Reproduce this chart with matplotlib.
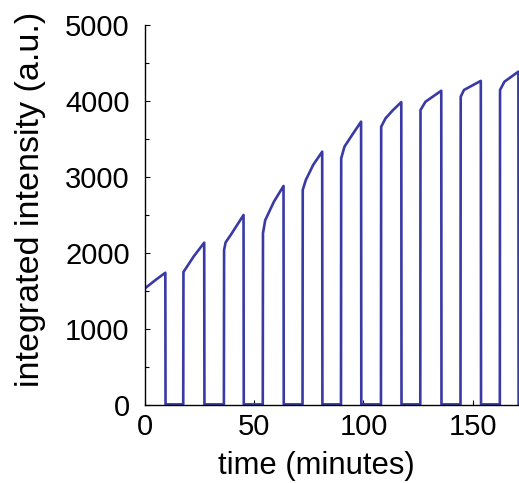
import matplotlib
matplotlib.use("Agg")
import matplotlib.pyplot as plt
from matplotlib.ticker import MultipleLocator

plt.rcParams['font.family'] = ['Liberation Sans', 'DejaVu Sans']

# time (minutes) and integrated intensity (a.u.)
time_min = [0.0, 4.6, 9.3, 9.4, 17.5,
            17.6, 22.3, 27.1, 27.2, 36.1,
            36.2, 36.9, 39.3, 45.1, 45.2, 53.9,
            54.0, 55.0, 59.0, 63.4, 63.5, 72.1,
            72.2, 73.6, 77.0, 81.1, 81.2, 89.7,
            89.8, 91.3, 94.8, 98.9, 99.0, 108.0,
            108.1, 110.1, 113.5, 117.3, 117.4, 126.0,
            126.1, 128.4, 135.6, 135.7, 144.4,
            144.5, 146.0, 153.7, 153.8, 162.4,
            162.5, 164.5, 170.9, 171.0]
intensity = [1535, 1640, 1740, 8, 8,
             1750, 1955, 2136, 8, 8,
             2040, 2140, 2240, 2500, 8, 8,
             2260, 2430, 2675, 2882, 8, 8,
             2830, 2960, 3160, 3333, 8, 8,
             3246, 3399, 3553, 3728, 8, 8,
             3662, 3772, 3880, 3985, 8, 8,
             3882, 3991, 4135, 8, 8,
             4057, 4145, 4265, 8, 8,
             4145, 4254, 4386, 8]

x_ticks = [0, 50, 100, 150]
y_ticks = [0, 1000, 2000, 3000, 4000, 5000]

fig = plt.figure(figsize=(5.19, 4.83), dpi=100)
ax = fig.add_axes([145 / 519, 1 - 405 / 483, 373.5 / 519, 380 / 483])
ax.plot(time_min, intensity, color='#3a3aa6', lw=1.9, solid_joinstyle='round')

ax.set_xlim(0, 170.95)
ax.set_ylim(0, 5000)
ax.set_xticks(x_ticks)
ax.set_yticks(y_ticks)
ax.yaxis.set_minor_locator(MultipleLocator(500))
ax.tick_params(axis='both', which='both', direction='in', labelsize=21,
               width=0.8, colors='black')
ax.tick_params(axis='both', which='major', length=3.5)
ax.tick_params(axis='both', which='minor', length=3)
ax.tick_params(axis='y', pad=11)
ax.tick_params(axis='x', pad=6)
for s in ['top', 'right']:
    ax.spines[s].set_visible(False)
for s in ['left', 'bottom']:
    ax.spines[s].set_linewidth(1.0)
ax.set_xlabel('time (minutes)', fontsize=22.3, labelpad=7)
ax.set_ylabel('integrated intensity (a.u.)', fontsize=24.5, labelpad=14)
ax.xaxis.label.set_x(0.458)
ax.yaxis.label.set_y(0.54)

fig.savefig('out.png', dpi=100)
